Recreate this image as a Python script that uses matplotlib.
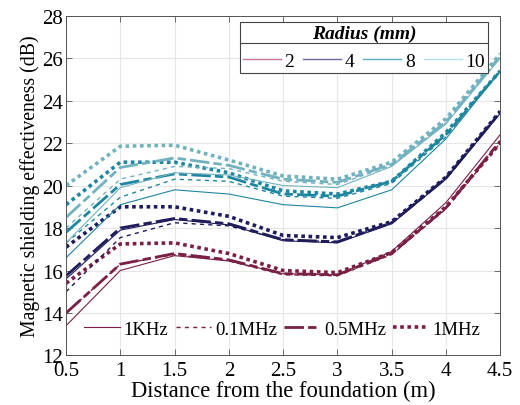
import numpy as np
import matplotlib
matplotlib.use('Agg')
from matplotlib import pyplot as plt
from matplotlib.lines import Line2D
from matplotlib.font_manager import FontProperties

plt.rcParams['font.family'] = ['Liberation Serif', 'DejaVu Serif']

dist = [0.5, 1, 1.5, 2, 2.5, 3, 3.5, 4, 4.5]

# radius 2 mm
r2_1k  = [13.4, 16.0, 16.7, 16.45, 15.85, 15.8, 16.9, 19.2, 22.4]
r2_01m = [14.0, 16.3, 16.75, 16.45, 15.8, 15.75, 16.75, 18.9, 22.0]
r2_05m = [14.0, 16.3, 16.8, 16.5, 15.85, 15.8, 16.8, 18.95, 22.1]
r2_1m  = [15.4, 17.25, 17.3, 16.8, 16.0, 15.9, 16.85, 19.0, 22.0]
# radius 4 mm
r4_1k  = [15.6, 17.9, 18.4, 18.15, 17.4, 17.3, 18.2, 20.3, 23.4]
r4_01m = [15.0, 17.55, 18.25, 18.1, 17.45, 17.35, 18.25, 20.35, 23.45]
r4_05m = [15.75, 18.0, 18.45, 18.2, 17.45, 17.35, 18.25, 20.35, 23.45]
r4_1m  = [17.1, 19.0, 19.0, 18.55, 17.65, 17.55, 18.3, 20.4, 23.5]
# radius 8 mm
r8_1k  = [16.6, 19.1, 19.8, 19.6, 19.1, 18.95, 19.8, 22.2, 25.4]
r8_01m = [17.3, 19.45, 20.3, 20.2, 19.5, 19.4, 20.1, 22.3, 25.4]
r8_05m = [17.8, 20.05, 20.55, 20.4, 19.6, 19.5, 20.2, 22.4, 25.4]
r8_1m  = [19.1, 21.1, 21.1, 20.6, 19.75, 19.6, 20.2, 22.5, 25.4]
# radius 10 mm
r10_1k  = [17.3, 19.9, 20.6, 20.5, 20.0, 19.9, 20.9, 22.9, 26.0]
r10_01m = [18.0, 20.3, 20.9, 20.8, 20.2, 20.05, 20.95, 22.95, 26.1]
r10_05m = [18.5, 20.85, 21.3, 20.95, 20.3, 20.15, 21.0, 23.0, 26.1]
r10_1m  = [20.0, 21.85, 21.9, 21.2, 20.45, 20.3, 21.1, 23.15, 26.2]

radii = ['2', '4', '8', '10']
freqs = ['1KHz', '0.1MHz', '0.5MHz', '1MHz']
series = [[r2_1k, r2_01m, r2_05m, r2_1m],
          [r4_1k, r4_01m, r4_05m, r4_1m],
          [r8_1k, r8_01m, r8_05m, r8_1m],
          [r10_1k, r10_01m, r10_05m, r10_1m]]

colors = ['#7a1f45', '#1f1c5c', '#1f86a0', '#72b2be']
leg_colors = ['#c8788f', '#6e6a9c', '#5ab0c8', '#b2e2ec']
styles = ['-', (0, (3, 3)), (0, (7, 1.5, 3, 1.5)), (0, (1, 1))]
widths = [0.8, 1.0, 2.0, 2.6]

fig = plt.figure(figsize=(5.2, 4.06), dpi=100)
ax = fig.add_axes([0.127, 0.122, 0.835, 0.837])

for i in range(4):
    for j in range(4):
        ax.plot(dist, series[i][j], color=colors[i], linestyle=styles[j],
                linewidth=widths[j])

ax.set_xlim(0.5, 4.5)
ax.set_ylim(12, 28)
ax.set_xticks(np.arange(0.5, 4.6, 0.5))
ax.set_xticklabels(['0.5', '1', '1.5', '2', '2.5', '3', '3.5', '4', '4.5'])
ax.set_yticks(np.arange(12, 29, 2))
ax.grid(True, color='#e6e6e6', linewidth=0.8)
ax.set_axisbelow(True)
ax.tick_params(direction='in', top=True, right=True, labelsize=15,
               length=4, width=0.6, color='#555555')
ax.tick_params(axis='x', pad=4)
ax.tick_params(axis='y', pad=2)
for s in ax.spines.values():
    s.set_color('#555555')
    s.set_linewidth(0.7)

ax.set_xlabel('Distance from the foundation (m)', fontsize=16.3, labelpad=0)
ax.set_ylabel('Magnetic shielding effectiveness (dB)', fontsize=14.2,
              labelpad=2)

# radius legend
title_fp = FontProperties(family='Liberation Serif', weight='bold',
                          style='italic', size=14)
rh = [Line2D([], [], color=leg_colors[i], linewidth=1.0) for i in range(4)]
leg1 = ax.legend(rh, radii, ncol=4, loc='upper right', fontsize=14,
                 title='Radius (mm)', title_fontproperties=title_fp,
                 frameon=True, fancybox=False,
                 edgecolor='#444444', framealpha=1, borderpad=0.15,
                 handlelength=1.95, handletextpad=0.2, columnspacing=0.45,
                 borderaxespad=0, bbox_to_anchor=(0.972, 0.981))
leg1.get_frame().set_linewidth(0.8)
ax.add_artist(leg1)

# frequency legend
fh = [Line2D([], [], color=colors[0], linestyle=styles[j],
             linewidth=widths[j]) for j in range(4)]
leg2 = ax.legend(fh, freqs, ncol=4, loc='center', fontsize=13.5,
                 frameon=False, handlelength=1.9, handletextpad=0.2,
                 columnspacing=0.4, borderaxespad=0,
                 bbox_to_anchor=(0.498, 0.078))

# separator line under legend title
fig.canvas.draw()
r = fig.canvas.get_renderer()
lb = leg1.get_window_extent(r)
tb = leg1.get_title().get_window_extent(r)
inv = fig.transFigure.inverted()
x0, y0 = inv.transform((lb.x0, tb.y0 - 1))
x1, _ = inv.transform((lb.x1, tb.y0 - 1))
fig.add_artist(Line2D([x0, x1], [y0, y0], color='#444444', linewidth=0.8,
                      transform=fig.transFigure))

fig.savefig('out.png', dpi=100)
